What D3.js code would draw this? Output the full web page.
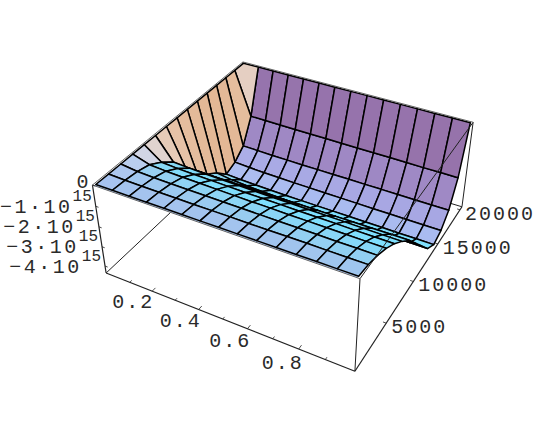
<!DOCTYPE html>
<html>
<head>
<meta charset="utf-8">
<script src="https://cdn.jsdelivr.net/npm/d3@7"></script>
<style>
  html, body { margin: 0; background: #fff; }
  text { font-family: "Liberation Mono", monospace; fill: #2a2a2a; }
</style>
</head>
<body>
<svg id="chart" width="537" height="436"></svg>
<script>
// Surface samples, x across, y along the rows, z in units of 10^15
const xValues = [0, 0.0714, 0.1429, 0.2143, 0.2857, 0.3571, 0.4286, 0.5, 0.5714, 0.6429, 0.7143, 0.7857, 0.8571, 0.9286, 1];
const yValues = [0, 1450, 2900, 4350, 5800, 7250, 8700, 10150, 11600, 13050, 14500, 15950, 17400, 18850, 20300];
const zValues = [
  [0, 0, 0, 0, 0, 0, 0, 0, 0, 0, 0, 0, 0, 0, 0],
  [0, -.03, -.04, -.05, -.05, -.06, -.06, -.06, -.07, -.07, -.07, -.07, -.08, -.08, -.08],
  [0, -.10, -.13, -.15, -.16, -.17, -.18, -.19, -.20, -.21, -.22, -.23, -.24, -.24, -.25],
  [0, -.25, -.30, -.33, -.35, -.37, -.39, -.41, -.42, -.44, -.45, -.46, -.48, -.49, -.50],
  [0, -.60, -.65, -.68, -.70, -.72, -.74, -.76, -.77, -.79, -.80, -.81, -.83, -.84, -.85],
  [0, -1.05, -1.10, -1.13, -1.15, -1.17, -1.19, -1.21, -1.22, -1.24, -1.25, -1.26, -1.28, -1.29, -1.30],
  [0, -1.75, -1.77, -1.78, -1.78, -1.79, -1.79, -1.79, -1.79, -1.79, -1.80, -1.80, -1.80, -1.80, -1.80],
  [0, -2.45, -2.47, -2.47, -2.48, -2.48, -2.48, -2.49, -2.49, -2.49, -2.49, -2.50, -2.50, -2.50, -2.50],
  [0, -3.10, -3.13, -3.15, -3.16, -3.17, -3.17, -3.18, -3.18, -3.18, -3.19, -3.19, -3.20, -3.20, -3.20],
  [0, -3.50, -3.62, -3.68, -3.72, -3.75, -3.78, -3.80, -3.82, -3.84, -3.85, -3.86, -3.88, -3.89, -3.90],
  [0, -4.05, -4.10, -4.13, -4.15, -4.17, -4.18, -4.19, -4.20, -4.21, -4.22, -4.23, -4.24, -4.24, -4.25],
  [0, -3.85, -3.90, -3.93, -3.95, -3.97, -3.98, -3.99, -4.00, -4.01, -4.02, -4.03, -4.04, -4.04, -4.05],
  [0, -3.40, -3.42, -3.44, -3.45, -3.46, -3.46, -3.47, -3.47, -3.48, -3.48, -3.49, -3.49, -3.50, -3.50],
  [0, -2.20, -2.21, -2.22, -2.23, -2.24, -2.24, -2.25, -2.26, -2.27, -2.27, -2.28, -2.29, -2.29, -2.30],
  [0, 0, 0, 0, 0, 0, 0, 0, 0, 0, 0, 0, 0, 0, 0],
];
const xTicks = [0.1, 0.2, 0.3, 0.4, 0.5, 0.6, 0.7, 0.8, 0.9];
const xLabels = [0.2, 0.4, 0.6, 0.8];
const yTicks = [5000, 10000, 15000, 20000];
const zTicks = [0, -1, -2, -3, -4];

const svg = d3.select('#chart');

// unit box scales, the box is a little larger than the surface
const xScale = d3.scaleLinear().domain([0, 1]).range([0.008, 0.992]);
const yScale = d3.scaleLinear().domain([0, 20300]).range([0.008, 0.992]);
const zScale = d3.scaleLinear().domain([-4.37, 0]).range([0, 1]);

// the picture of the box corners fixes the camera
const boxPicture = [
  [0, 0, 1, 92.5, 185], [1, 0, 1, 360, 279], [1, 1, 1, 473, 122], [0, 1, 1, 243, 62],
  [0, 0, 0, 106, 273], [1, 0, 0, 355, 371], [1, 1, 0, 462, 207],
];

function solveCamera(rows) {
  const A = [], b = [];
  rows.forEach(([x, y, z, u, v]) => {
    A.push([x, y, z, 1, 0, 0, 0, 0, -u * x, -u * y, -u * z]); b.push(u);
    A.push([0, 0, 0, 0, x, y, z, 1, -v * x, -v * y, -v * z]); b.push(v);
  });
  const n = 11;
  const M = d3.range(n).map((i) => {
    const row = d3.range(n).map((j) => d3.sum(A, (r) => r[i] * r[j]));
    row.push(d3.sum(A, (r, k) => r[i] * b[k]));
    return row;
  });
  for (let i = 0; i < n; i++) {
    let p = i;
    for (let r = i + 1; r < n; r++) if (Math.abs(M[r][i]) > Math.abs(M[p][i])) p = r;
    [M[i], M[p]] = [M[p], M[i]];
    for (let r = 0; r < n; r++) {
      if (r === i) continue;
      const f = M[r][i] / M[i][i];
      for (let c = i; c <= n; c++) M[r][c] -= f * M[i][c];
    }
  }
  return M.map((row, i) => row[n] / row[i]);
}
const cam = solveCamera(boxPicture);

// x, y, z in unit box coordinates
const project = (x, y, z) => {
  const w = cam[8] * x + cam[9] * y + cam[10] * z + 1;
  return [
    (cam[0] * x + cam[1] * y + cam[2] * z + cam[3]) / w,
    (cam[4] * x + cam[5] * y + cam[6] * z + cam[7]) / w,
  ];
};
const line = d3.line();

// default Mathematica view, box ratios 1:1:0.4
const viewDir = [1.3, -2.4, 2].map((d) => d / Math.hypot(1.3, 2.4, 2));
const viewRight = [0.879, 0.476, 0];
const viewUp = [-0.281, 0.518, 0.807];
const dot = (a, b) => a[0] * b[0] + a[1] * b[1] + a[2] * b[2];

function shade(n) {
  const r = dot(n, viewRight), u = dot(n, viewUp), v = dot(n, viewDir);
  const red = Math.max(0, (r + v) / Math.SQRT2);
  const green = Math.max(0, (r + u + v) / Math.sqrt(3));
  const blue = Math.max(0, (u + v) / Math.SQRT2);
  let c = [0.456 + 0.454 * red, 0.405 + 0.44 * green, 0.455 + 0.49 * blue];
  // faces tilted away from the viewer go cyan, but not the steep left column
  const t = Math.min(1, Math.max(0, (n[1] - 0.08) / 0.3)) * Math.max(0, 1 - Math.abs(n[0]) / 0.2);
  c = [c[0] + (0.49 - c[0]) * t, c[1] + (0.88 - c[1]) * t, c[2] + (1 - c[2]) * t];
  return d3.rgb(c[0] * 255, c[1] * 255, c[2] * 255).formatRgb();
}

// build the mesh cells
const cells = [];
for (let k = 0; k < yValues.length - 1; k++) {
  for (let c = 0; c < xValues.length - 1; c++) {
    const pts = [[c, k], [c + 1, k], [c + 1, k + 1], [c, k + 1]].map(([i, j]) => [
      xScale(xValues[i]), yScale(yValues[j]), zScale(zValues[j][i]),
    ]);
    const d1 = pts[2].map((v, i) => v - pts[0][i]);
    const d2 = pts[3].map((v, i) => v - pts[1][i]);
    // z axis of the box is 0.4 long
    d1[2] *= 0.4; d2[2] *= 0.4;
    const nx = d1[1] * d2[2] - d1[2] * d2[1];
    // left column is shaded by its x slope only
    const ny = c === 0 ? 0 : d1[2] * d2[0] - d1[0] * d2[2];
    const nz = d1[0] * d2[1] - d1[1] * d2[0];
    const len = Math.hypot(nx, ny, nz);
    const depth = d3.mean(pts, (p) => dot([p[0] - 0.5, p[1] - 0.5, (p[2] - 0.5) * 0.4], viewDir));
    cells.push({ pts, normal: [nx / len, ny / len, nz / len], depth });
  }
}
cells.sort((a, b) => d3.ascending(a.depth, b.depth));

const boxLine = (g, a, b, width = 1) => g.append('path')
  .attr('d', line([project(...a), project(...b)]))
  .attr('fill', 'none')
  .attr('stroke', '#222')
  .attr('stroke-width', width);

// box edges behind the surface
const back = svg.append('g');
boxLine(back, [0, 0, 0], [0, 1, 0]);
boxLine(back, [0, 1, 0], [1, 1, 0]);
boxLine(back, [0, 1, 0], [0, 1, 1]);

// thin strip between the front box edge and the surface
svg.append('path')
  .attr('d', line([
    project(xScale(0), 0, 1), project(xScale(1), 0, 1),
    project(xScale(1), yScale(0), 1), project(xScale(0), yScale(0), 1),
  ]) + 'Z')
  .attr('fill', '#a8c4ee');

svg.append('g')
  .selectAll('path')
  .data(cells)
  .enter()
  .append('path')
  .attr('d', (d) => line(d.pts.map((p) => project(...p))) + 'Z')
  .attr('fill', (d) => shade(d.normal))
  .attr('stroke', '#000')
  .attr('stroke-width', 1.5)
  .attr('stroke-linejoin', 'round');

// box edges in front
const front = svg.append('g');
boxLine(front, [0, 0, 1], [0, 0, 0], 1.2);
boxLine(front, [0, 0, 0], [1, 0, 0], 1.2);
boxLine(front, [1, 0, 0], [1, 0, 1]);
boxLine(front, [1, 0, 0], [1, 1, 0], 1.2);
boxLine(front, [1, 1, 0], [1, 1, 1]);
boxLine(front, [1, 1, 1], [1, 0, 1]);
boxLine(front, [0, 0, 1], [1, 0, 1]).attr('stroke', '#666');
boxLine(front, [0, 0, 1], [0, 1, 1]).attr('stroke', '#666');
boxLine(front, [0, 1, 1], [1, 1, 1]).attr('stroke', '#666');

// x axis
xTicks.forEach((t) => boxLine(front, [xScale(t), 0, 0], [xScale(t), xLabels.includes(t) ? 0.02 : 0.012, 0], 0.8));
svg.append('g')
  .selectAll('text')
  .data(xLabels)
  .enter()
  .append('text')
  .attr('transform', (d) => {
    const p = project(xScale(d), -0.13, 0);
    return `translate(${p[0] + 3},${p[1] - 13})`;
  })
  .attr('text-anchor', 'middle')
  .attr('dy', '0.35em')
  .attr('font-size', 20)
  .attr('letter-spacing', 2)
  .text((d) => d);

// y axis
yTicks.forEach((t) => boxLine(front, [1, yScale(t), 0], [0.988, yScale(t), 0], 0.8));
svg.append('g')
  .selectAll('text')
  .data(yTicks)
  .enter()
  .append('text')
  .attr('transform', (d) => {
    const p = project(1, yScale(d), 0);
    return `translate(${p[0] + 5},${p[1] + 3})`;
  })
  .attr('dy', '0.35em')
  .attr('font-size', 20)
  .attr('letter-spacing', 2)
  .text((d) => d);

// z axis
zTicks.forEach((t) => boxLine(front, [0, 0, zScale(t)], [0.012, 0, zScale(t)], 0.8));
const zText = svg.append('g')
  .selectAll('text')
  .data(zTicks)
  .enter()
  .append('text')
  .attr('transform', (d) => {
    const p = project(0, 0, zScale(d));
    return `translate(${p[0] - 4},${p[1] + (d === 0 ? 3 : 6.5)})`;
  })
  .attr('text-anchor', 'end')
  .attr('font-size', 20)
  .attr('letter-spacing', (d) => (d === 0 ? 0 : 2.5));
zText.append('tspan').text((d) => (d === 0 ? '0' : `\u2212${-d}\u00b710`));
zText.filter((d) => d !== 0)
  .append('tspan')
  .attr('dy', -12)
  .attr('font-size', 16)
  .attr('letter-spacing', 0)
  .text('15');
</script>
</body>
</html>
